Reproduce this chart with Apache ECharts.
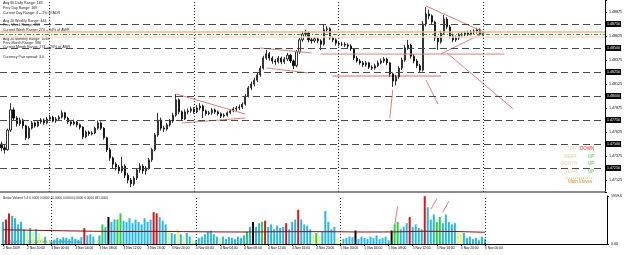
<!DOCTYPE html>
<html>
<head>
<meta charset="utf-8">
<script src="https://cdn.jsdelivr.net/npm/echarts@6.0.0/dist/echarts.min.js"></script>
<style>html,body{margin:0;padding:0;background:#fff}#chart{width:625px;height:255px}</style>
</head>
<body>
<div id="chart"></div>
<script>
// M30 bars, 2 Nov 16:00 -> 6 Nov 00:00
var opens = [
 1.4750,1.4746,1.4744,1.47645,1.47855,1.4777,1.4771,1.4775,1.4769,1.47565,
 1.47665,1.4772,1.4769,1.4773,1.4775,1.4772,1.4776,1.4778,1.4774,1.4776,
 1.4778,1.47825,1.4777,1.4773,1.4771,1.4773,1.4770,1.47675,1.47575,1.47625,
 1.47605,1.47615,1.47665,1.4772,1.47665,1.47565,1.4744,1.47355,1.4729,1.4726,
 1.4722,1.4727,1.47175,1.47125,1.47085,1.47145,1.4723,1.4727,1.4722,1.4725,
 1.47335,1.4744,1.47595,1.4775,1.47665,1.47655,1.4770,1.4774,1.4780,1.4796,
 1.47835,1.4776,1.47835,1.47845,1.47865,1.47835,1.47875,1.47895,1.47845,1.47815,
 1.47825,1.47855,1.47835,1.47815,1.4779,1.4780,1.47825,1.47845,1.47865,1.47875,
 1.47885,1.47915,1.4800,1.48085,1.48125,1.48165,1.4822,1.4829,1.48395,1.4844,
 1.48395,1.48365,1.48355,1.48395,1.48355,1.48385,1.48425,1.48365,1.48315,1.4846,
 1.48585,1.48645,1.48655,1.48585,1.48575,1.48595,1.48575,1.4854,1.4869,1.4870,
 1.48605,1.48585,1.4855,1.4854,1.4854,1.4853,1.4852,1.4849,1.48395,1.48365,
 1.48345,1.48325,1.48345,1.4830,1.4829,1.48315,1.48345,1.48365,1.48385,1.48345,
 1.4823,1.48155,1.4820,1.4829,1.48375,1.4850,1.4853,1.48415,1.48365,1.48315,
 1.4827,1.4875,1.48855,1.48835,1.4877,1.48605,1.48565,1.48655,1.4880,1.4872,
 1.48625,1.48585,1.48605,1.48635,1.48645,1.48655,1.48645,1.48665,1.48675,1.4869,
 1.48645
];
var closes = [
 1.4746,1.4744,1.47645,1.47855,1.4777,1.4771,1.4775,1.4769,1.47565,1.47665,
 1.4772,1.4769,1.4773,1.4775,1.4772,1.4776,1.4778,1.4774,1.4776,1.4778,
 1.47825,1.4777,1.4773,1.4771,1.4773,1.4770,1.47675,1.47575,1.47625,1.47605,
 1.47615,1.47665,1.4772,1.47665,1.47565,1.4744,1.47355,1.4729,1.4726,1.4722,
 1.4727,1.47175,1.47125,1.47085,1.47145,1.4723,1.4727,1.4722,1.4725,1.47335,
 1.4744,1.47595,1.4775,1.47665,1.47655,1.4770,1.4774,1.4780,1.4796,1.47835,
 1.4776,1.47835,1.47845,1.47865,1.47835,1.47875,1.47895,1.47845,1.47815,1.47825,
 1.47855,1.47835,1.47815,1.4779,1.4780,1.47825,1.47845,1.47865,1.47875,1.47885,
 1.47915,1.4800,1.48085,1.48125,1.48165,1.4822,1.4829,1.48395,1.4844,1.48395,
 1.48365,1.48355,1.48395,1.48355,1.48385,1.48425,1.48365,1.48315,1.4846,1.48585,
 1.48645,1.48655,1.48585,1.48575,1.48595,1.48575,1.4854,1.4869,1.4870,1.48605,
 1.48585,1.4855,1.4854,1.4854,1.4853,1.4852,1.4849,1.48395,1.48365,1.48345,
 1.48325,1.48345,1.4830,1.4829,1.48315,1.48345,1.48365,1.48385,1.48345,1.4823,
 1.48155,1.4820,1.4829,1.48375,1.4850,1.4853,1.48415,1.48365,1.48315,1.4827,
 1.4875,1.48855,1.48835,1.4877,1.48605,1.48565,1.48655,1.4880,1.4872,1.48625,
 1.48585,1.48605,1.48635,1.48645,1.48655,1.48645,1.48665,1.48675,1.4869,1.48645,
 1.4865
];
var lows = [
 1.47425,1.4740,1.4743,1.47625,1.4774,1.4768,1.4769,1.4766,1.4754,1.4755,
 1.4765,1.4767,1.47675,1.4771,1.4770,1.47705,1.4774,1.47725,1.4772,1.47745,
 1.47765,1.4775,1.4771,1.47685,1.47695,1.47675,1.4765,1.4755,1.4756,1.47585,
 1.4759,1.4760,1.4765,1.47645,1.47545,1.47415,1.47325,1.4725,1.47225,1.4719,
 1.4720,1.47145,1.4709,1.4705,1.47065,1.47125,1.4720,1.4719,1.4718,1.4723,
 1.47315,1.47425,1.47575,1.4764,1.47625,1.4764,1.4768,1.4772,1.47785,1.4781,
 1.4774,1.4775,1.4781,1.47825,1.47815,1.4782,1.4785,1.4777,1.47795,1.4780,
 1.47805,1.47815,1.47795,1.4777,1.47775,1.47785,1.4781,1.4783,1.47845,1.47855,
 1.47865,1.4790,1.47985,1.4806,1.4810,1.48145,1.4820,1.48275,1.48375,1.4837,
 1.48335,1.48325,1.4834,1.4833,1.48335,1.48365,1.48345,1.4828,1.4830,1.4844,
 1.48565,1.48615,1.4856,1.48545,1.48555,1.4855,1.4848,1.48525,1.4866,1.48585,
 1.4856,1.48525,1.48515,1.4852,1.4851,1.4850,1.4847,1.48375,1.48345,1.48325,
 1.4830,1.48305,1.4828,1.4827,1.48275,1.4830,1.4833,1.48345,1.4832,1.4820,
 1.48095,1.4811,1.4818,1.4827,1.48355,1.4848,1.4839,1.4834,1.4829,1.4824,
 1.48255,1.48725,1.4880,1.4874,1.48575,1.4848,1.48545,1.48635,1.48695,1.4860,
 1.4856,1.48565,1.48585,1.4861,1.4862,1.48625,1.4863,1.4864,1.4865,1.4863,
 1.4863
];
var highs = [
 1.47525,1.4749,1.4766,1.47925,1.4788,1.4779,1.47775,1.47765,1.4770,1.47685,
 1.4774,1.47735,1.4775,1.4777,1.47765,1.4778,1.47805,1.47795,1.4778,1.4780,
 1.4785,1.47835,1.47785,1.47745,1.47755,1.4774,1.47715,1.47685,1.4764,1.4764,
 1.47635,1.4768,1.47745,1.47735,1.47675,1.47575,1.4746,1.4737,1.4731,1.4728,
 1.47365,1.4729,1.4720,1.47145,1.47165,1.4725,1.4730,1.4729,1.4727,1.47355,
 1.4746,1.47615,1.47825,1.47775,1.4769,1.4772,1.4776,1.47825,1.4802,1.47975,
 1.4785,1.4786,1.4787,1.4789,1.47885,1.47905,1.47925,1.4791,1.4786,1.47845,
 1.47875,1.4787,1.4785,1.4783,1.4782,1.4784,1.47865,1.47885,1.47895,1.4791,
 1.47935,1.4802,1.48105,1.4815,1.4819,1.4824,1.48315,1.4842,1.4848,1.4846,
 1.48415,1.48385,1.48415,1.4841,1.48405,1.4845,1.4844,1.4838,1.4848,1.48605,
 1.48675,1.4869,1.4867,1.48605,1.48615,1.4861,1.4859,1.4874,1.4873,1.48715,
 1.48625,1.4860,1.4857,1.48565,1.4856,1.4855,1.4854,1.4850,1.48415,1.48385,
 1.48365,1.48365,1.48355,1.4832,1.48335,1.4837,1.4839,1.48405,1.4840,1.48355,
 1.48245,1.4822,1.4831,1.4840,1.4853,1.48585,1.48545,1.48435,1.48385,1.48335,
 1.4878,1.48925,1.4890,1.4885,1.48785,1.48625,1.4868,1.48845,1.4882,1.4874,
 1.4865,1.4863,1.48655,1.48665,1.48675,1.4868,1.48685,1.48695,1.4871,1.48705,
 1.4867
];
var volumes = [
 900,1000,1250,1150,1050,800,900,600,550,650,
 500,600,450,250,300,150,100,180,250,200,
 280,250,200,300,220,180,280,650,350,400,
 300,150,350,800,700,1100,900,1000,1000,1250,
 950,900,1050,850,1000,900,800,1050,900,1000,
 1300,1250,1100,950,800,550,450,400,600,400,
 300,450,300,200,150,250,300,400,500,550,
 400,300,250,300,200,280,250,200,300,250,
 350,500,700,900,700,850,900,950,700,800,
 600,750,650,700,850,600,900,1000,1400,1000,
 800,750,600,400,450,350,500,1350,900,600,
 700,250,150,200,250,300,280,550,200,300,
 250,200,300,250,350,200,250,300,150,550,
 800,900,600,700,850,1100,700,800,650,600,
 1950,1500,1000,1200,900,1100,850,1200,900,800,
 850,500,400,450,250,300,200,250,150,300,
 200
];
// c=normal y=low vol g=churn r=climax k=climax churn
var volColorCodes = ('crrcccccyc ycyycycccc cccccccrcc cycgckccgg cccccccccc rrcccyccyc yccycccccc ' +
    'ccyccccccc cgckccgrcc ccccrcccrc cccygycccc cyycccckcc ccccccccck ggcccrcccc rcccggcccc cyyccccccc c').replace(/ /g, '');
var volMA = [[0,580],[10,560],[20,540],[30,520],[40,510],[50,515],[60,505],[70,495],[80,490],[90,500],
    [100,505],[110,500],[120,490],[130,495],[140,520],[150,510],[160,480]];

var tickLabels = ['2 Nov 2009','2 Nov 20:00','3 Nov 00:00','3 Nov 04:00','3 Nov 08:00','3 Nov 12:00','3 Nov 16:00',
    '3 Nov 20:00','4 Nov 00:00','4 Nov 04:00','4 Nov 08:00','4 Nov 12:00','4 Nov 16:00','4 Nov 20:00',
    '5 Nov 00:00','5 Nov 04:00','5 Nov 08:00','5 Nov 12:00','5 Nov 16:00','5 Nov 20:00','6 Nov 00:00'];
var daySeparators = [16, 64, 112, 160];
var roundLevels = [1.4875, 1.4850, 1.4825, 1.4800, 1.4775, 1.4750, 1.4725];
var lastPrice = 1.4865;
var askLevel = 1.4867, bidLevel = 1.4864, spreadLevel = 1.48615;

var trendLines = [
    [[58,1.48021],[81,1.47812]],
    [[60,1.47719],[81,1.47771]],
    [[86,1.4850],[103,1.48448]],
    [[88,1.48292],[102,1.4824]],
    [[106,1.48437],[167,1.48437]],
    [[130,1.48062],[129,1.47771]],
    [[141,1.48167],[145,1.47917]],
    [[141,1.48938],[161,1.48656]],
    [[146,1.48438],[160,1.48656]],
    [[148,1.48448],[170,1.47865]]
];
var supportLine = [[110,1.48208],[146,1.48208]];
var volTrendLines = [
    [[130,750],[131,1543]],
    [[142,1418],[144,1835]],
    [[146,1292],[148,1751]]
];

var infoLines = ['Avg 60 Daily Range: 185','Prev Day Range: 169','Current Day Range: 4 -- 2% of ADR',
    'Avg 20 Weekly Range: 444','Prev Week Range: 313','Current Week Range: 274 -- 64% of AWR',
    'Avg 24 Monthly Range: 1048','Prev Month Range: 986','Current Month Range: 274 -- 26% of AMR',
    'Currency Pair spread: 3.0'];
var infoTop = [3, 8, 13, 21, 25, 30, 39, 43, 47, 57];
var moveNames = ['DAY','WEEK','MONTH','YEAR'];
var moveDirs = ['DOWN','UP','UP','UP'];
var volTitle = 'Better Volume 1.4 0.0000 0.0000 20.0000 0.0000 0.0000 0.0000 481.0000';
var copyright = 'MetaTrader 4, \u00a9 2001-2009 MetaQuotes Software Corp.';
var volMax = 1959.6;
var nSlots = 201;

var FONT = '"Liberation Sans", Arial, sans-serif';
var volColorMap = {c: '#27b9e6', y: '#f4f46a', g: '#2fcf3f', r: '#dd1515', k: '#000000'};

var cats = [];
for (var i = 0; i < nSlots; i++) cats.push(String(i));

var candleData = [];
for (var j = 0; j < opens.length; j++) candleData.push([opens[j], closes[j], lows[j], highs[j]]);

var volData = [];
for (var k = 0; k < volumes.length; k++) {
    volData.push({value: volumes[k], itemStyle: {color: volColorMap[volColorCodes.charAt(k)]}});
}

function isTick(idx) { return idx % 8 === 0 && idx <= 160; }

var levelMarks = roundLevels.map(function (v) {
    return {
        yAxis: v,
        lineStyle: {color: '#4a4a4a', type: [7, 4], width: 1},
        label: {show: true, position: 'end', distance: 1, formatter: v.toFixed(5), color: '#fff',
            backgroundColor: '#000', fontSize: 3.6, fontFamily: FONT, padding: [1, 1]}
    };
});
var dayMarks = daySeparators.map(function (d) {
    return {xAxis: d, lineStyle: {color: '#333', type: [1, 2], width: 1}, label: {show: false}};
});

var series = [
    {
        type: 'candlestick',
        xAxisIndex: 0, yAxisIndex: 0,
        data: candleData,
        barWidth: 1.6,
        itemStyle: {color: '#ffffff', color0: '#000000', borderColor: '#000000', borderColor0: '#000000', borderWidth: 0.8},
        markLine: {
            silent: true, symbol: 'none', animation: false, precision: 5,
            data: dayMarks.concat(levelMarks).concat([
                {yAxis: askLevel, lineStyle: {color: '#f2b48c', type: 'solid', width: 1.5}, label: {show: false}},
                {yAxis: spreadLevel, lineStyle: {color: '#f6dccb', type: 'solid', width: 1.5}, label: {show: false}},
                {yAxis: bidLevel, lineStyle: {color: '#2f9a2f', type: [4, 2, 1, 2], width: 1}, label: {show: false}},
                {yAxis: lastPrice, lineStyle: {opacity: 0},
                    label: {show: true, position: 'end', distance: 1, formatter: lastPrice.toFixed(5), color: '#fff',
                        backgroundColor: '#d01818', fontSize: 3.6, fontFamily: FONT, padding: [1, 1]}}
            ])
        },
        z: 3
    },
    {
        type: 'line', xAxisIndex: 0, yAxisIndex: 0, data: supportLine, symbol: 'none', silent: true,
        lineStyle: {color: '#eab6b6', width: 2}, z: 2
    },
    {
        type: 'bar', xAxisIndex: 1, yAxisIndex: 1, data: volData, barWidth: 2,
        markLine: {silent: true, symbol: 'none', animation: false, data: dayMarks}
    },
    {
        type: 'line', xAxisIndex: 1, yAxisIndex: 1, data: volMA, symbol: 'none', silent: true,
        lineStyle: {color: '#7a1414', width: 1}, z: 4
    }
];
trendLines.forEach(function (t) {
    series.push({type: 'line', xAxisIndex: 0, yAxisIndex: 0, data: t, symbol: 'none', silent: true,
        lineStyle: {color: '#d98080', width: 1}, z: 4});
});
volTrendLines.forEach(function (t) {
    series.push({type: 'line', xAxisIndex: 1, yAxisIndex: 1, data: t, symbol: 'none', silent: true,
        lineStyle: {color: '#d98080', width: 1}, z: 5});
});

var graphic = [];
infoLines.forEach(function (txt, n) {
    graphic.push({type: 'text', x: 3, y: infoTop[n], style: {text: txt, fill: '#222', font: '3.6px ' + FONT, verticalAlign: 'middle'}});
});
var moveTop = [149, 157, 164, 172];
moveNames.forEach(function (nm, n) {
    graphic.push({type: 'text', x: 577, y: moveTop[n], style: {text: nm, fill: '#f4c9a8', font: '4.5px ' + FONT, align: 'right', verticalAlign: 'middle'}});
    graphic.push({type: 'text', x: moveDirs[n] === 'DOWN' ? 580 : 588, y: moveTop[n],
        style: {text: moveDirs[n], fill: moveDirs[n] === 'DOWN' ? '#e02c2c' : '#3fcc3f', font: '4.5px ' + FONT, verticalAlign: 'middle'}});
});
graphic.push({type: 'line', shape: {x1: 565, y1: 178, x2: 594, y2: 178}, style: {stroke: '#e8a050', lineWidth: 0.8, lineDash: [1, 1]}});
graphic.push({type: 'text', x: 568, y: 182, style: {text: 'Main Moves', fill: '#e09030', font: '4.5px ' + FONT, verticalAlign: 'middle'}});
graphic.push({type: 'text', x: 3, y: 198, style: {text: volTitle, fill: '#222', font: '3.2px ' + FONT, verticalAlign: 'middle'}});
graphic.push({type: 'text', x: 2, y: 242, style: {text: copyright, fill: '#333', font: '3.2px ' + FONT, verticalAlign: 'middle'}});

var myChart = echarts.init(document.getElementById('chart'), null, {renderer: 'canvas'});
var option = {
    animation: false,
    backgroundColor: '#ffffff',
    grid: [
        {left: 0, top: 0, width: 608, height: 192},
        {left: 0, top: 196, width: 608, height: 48}
    ],
    xAxis: [
        {
            type: 'category', gridIndex: 0, data: cats, boundaryGap: true,
            axisLine: {show: true, lineStyle: {color: '#8c8c8c', width: 2}},
            axisTick: {show: false}, axisLabel: {show: false}, splitLine: {show: false}
        },
        {
            type: 'category', gridIndex: 1, data: cats, boundaryGap: true,
            axisLine: {show: true, lineStyle: {color: '#000', width: 1}},
            axisTick: {show: true, alignWithLabel: true, length: 2, interval: function (idx) { return isTick(idx); }, lineStyle: {color: '#000'}},
            axisLabel: {
                interval: function (idx) { return isTick(idx); },
                formatter: function (v) { var n = Number(v); return isTick(n) ? tickLabels[n / 8] : ''; },
                align: 'left', fontSize: 3.3, fontFamily: FONT, color: '#000', margin: 3
            },
            splitLine: {show: false}
        }
    ],
    yAxis: [
        {
            type: 'value', gridIndex: 0, position: 'right', min: 1.47, max: 1.49, interval: 0.00125,
            axisLine: {show: true, lineStyle: {color: '#000'}},
            axisTick: {show: true, length: 2, lineStyle: {color: '#000'}},
            axisLabel: {
                fontSize: 3.6, fontFamily: FONT, color: '#000', margin: 4,
                formatter: function (v) { var s = Math.round((v - 1.47) / 0.00125); return s % 2 === 1 ? v.toFixed(5) : ''; }
            },
            splitLine: {show: false}
        },
        {
            type: 'value', gridIndex: 1, position: 'right', min: 0, max: volMax, interval: volMax,
            axisLine: {show: true, lineStyle: {color: '#000'}},
            axisTick: {show: true, length: 2, lineStyle: {color: '#000'}},
            axisLabel: {
                fontSize: 3.6, fontFamily: FONT, color: '#000', margin: 4,
                formatter: function (v) { return v === 0 ? '0.00' : v.toFixed(1); }
            },
            splitLine: {show: false}
        }
    ],
    series: series,
    graphic: graphic
};
myChart.setOption(option);
</script>
</body>
</html>
